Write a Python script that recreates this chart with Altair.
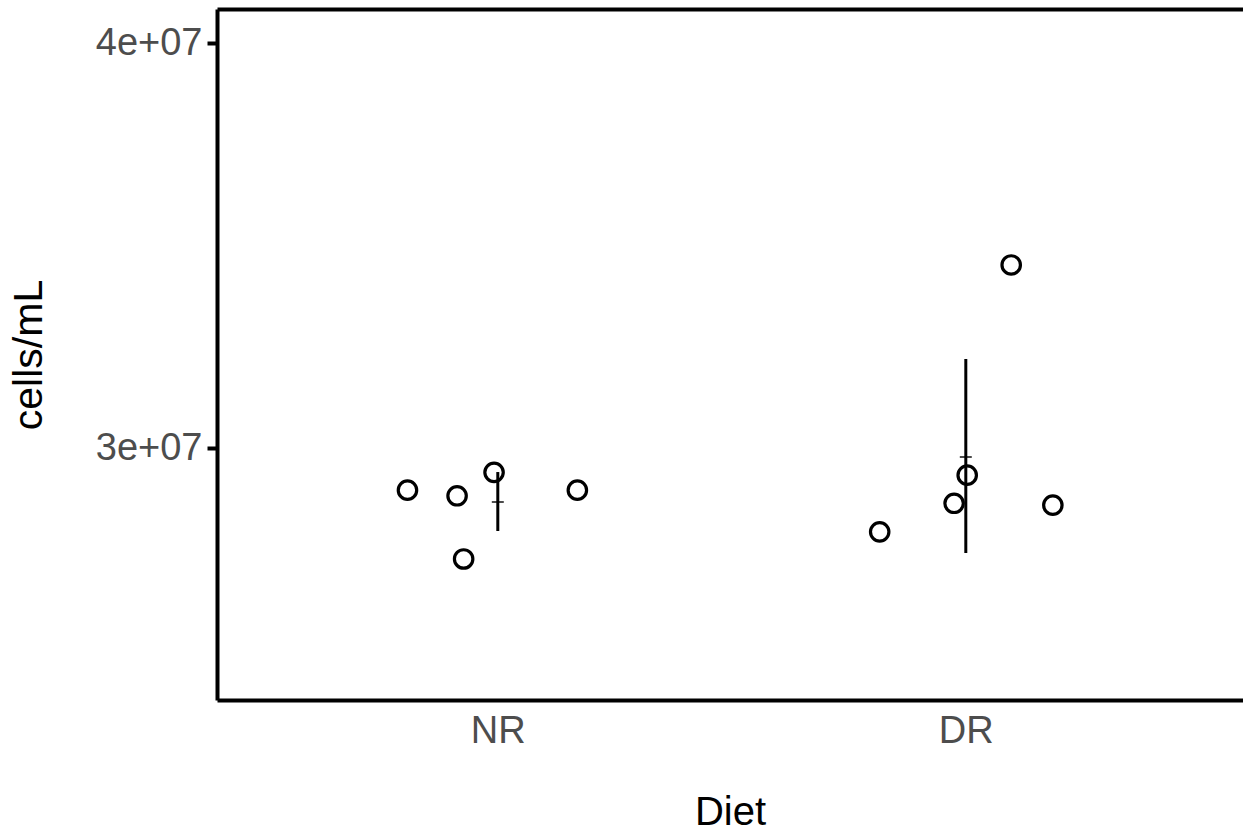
import altair as alt
import pandas as pd

# ---- data ----
groups = ["NR", "NR", "NR", "NR", "NR", "DR", "DR", "DR", "DR", "DR"]
# jittered horizontal position (1 = NR, 2 = DR)
jitter_x = [0.807, 0.913, 0.927, 0.992, 1.170, 1.816, 1.975, 2.003, 2.097, 2.186]
cells = [2.896e7, 2.882e7, 2.726e7, 2.940e7, 2.896e7,
         2.793e7, 2.8635e7, 2.933e7, 3.452e7, 2.859e7]

cat_names = ["NR", "DR"]
cat_pos = [1, 2]
means = [2.8667e7, 2.9778e7]
lower = [2.7951e7, 2.7407e7]
upper = [2.9407e7, 3.2198e7]

pts = pd.DataFrame({"Diet": groups, "x": jitter_x, "cells": cells})
summ = pd.DataFrame({"Diet": cat_names, "x": cat_pos, "mean": means,
                     "lo": lower, "hi": upper})

FONT = "Liberation Sans"
xscale = alt.Scale(domain=[0.4, 2.5923], nice=False, zero=False)
yscale = alt.Scale(domain=[2.3778e7, 4.0840e7], nice=False, zero=False)

yaxis = alt.Axis(values=[3e7, 4e7], labelExpr="format(datum.value/1e7,'d') + 'e+07'",
                 grid=False, domain=True, domainColor="black", domainWidth=4,
                 ticks=True, tickColor="black", tickWidth=4, tickSize=10,
                 labelPadding=5, labelFont=FONT, labelFontSize=38, labelColor="#4D4D4D",
                 title="cells/mL", titleFont=FONT, titleFontSize=41, titleColor="black",
                 titleFontWeight="normal", titlePadding=45)

xaxis = alt.Axis(values=[1, 2], labelExpr="datum.value == 1 ? 'NR' : 'DR'",
                 grid=False, domain=True, domainColor="black", domainWidth=4,
                 ticks=False, labelPadding=12, labelFont=FONT, labelFontSize=38,
                 labelColor="#4D4D4D", title="Diet", titleFont=FONT, titleFontSize=40,
                 titleColor="black", titleFontWeight="normal", titlePadding=42)

topaxis = alt.Axis(orient="top", grid=False, domain=True, domainColor="black",
                   domainWidth=4, ticks=False, labels=False, title=None)

points = alt.Chart(pts).mark_point(shape="circle", filled=False, color="black",
                                   size=340, strokeWidth=3.2, opacity=1).encode(
    x=alt.X("x:Q", scale=xscale, axis=xaxis),
    y=alt.Y("cells:Q", scale=yscale, axis=yaxis),
)

bars = alt.Chart(summ).mark_rule(color="black", strokeWidth=3).encode(
    x=alt.X("x:Q", scale=xscale, axis=topaxis),
    y=alt.Y("lo:Q", scale=yscale),
    y2="hi:Q",
)

mean_tick = alt.Chart(summ).mark_tick(color="black", orient="horizontal",
                                      size=12, thickness=2).encode(
    x=alt.X("x:Q", scale=xscale, axis=None),
    y=alt.Y("mean:Q", scale=yscale),
)

chart = alt.layer(points, bars, mean_tick).resolve_axis(x="independent").properties(
    width=1026, height=691,
    autosize=alt.AutoSizeParams(type="none"),
    padding={"left": 217, "top": 9, "right": 0, "bottom": 131},
    background="white",
).configure_view(stroke=None)

chart.save("out.html", embed_options={"renderer": "svg", "actions": False})
